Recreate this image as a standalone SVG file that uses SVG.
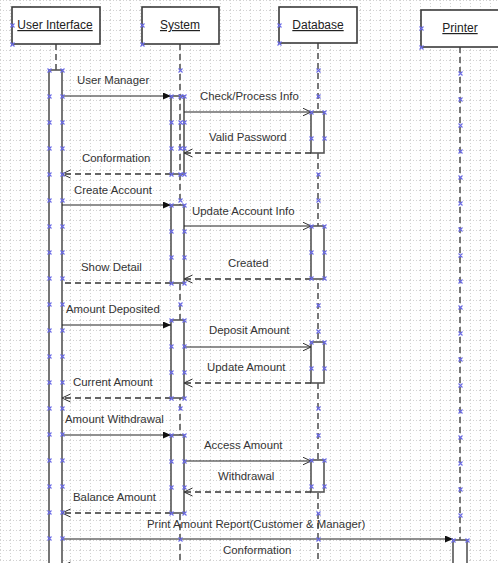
<svg xmlns="http://www.w3.org/2000/svg" width="498" height="563" viewBox="0 0 498 563">
<defs>
<pattern id="grid" width="10" height="10" patternUnits="userSpaceOnUse">
<path d="M0 0.5H10M0.5 0V10" stroke="#d2d2d2" stroke-width="1" stroke-dasharray="1,2" fill="none"/>
</pattern>
<marker id="fill" markerWidth="9" markerHeight="8" refX="8" refY="3.5" orient="auto" markerUnits="userSpaceOnUse">
<path d="M0,0 L8,3.5 L0,7 z" fill="#111"/>
</marker>
<marker id="open" markerWidth="10" markerHeight="10" refX="8.5" refY="4.5" orient="auto" markerUnits="userSpaceOnUse">
<path d="M0,0.5 L8.5,4.5 L0,8.5" fill="none" stroke="#333" stroke-width="1"/>
</marker>
<symbol id="x" viewBox="-2.5 -2.5 5 5" width="5" height="5" overflow="visible">
<path d="M-2,-2 L2,2 M-2,2 L2,-2" stroke="#6a6ae6" stroke-width="1.1"/>
</symbol>
</defs>
<style>
.hdr{fill:#fff;stroke:#3a3a3a;stroke-width:1.6}
.ht{font-family:"Liberation Sans",Arial,sans-serif;font-size:12px;fill:#222;text-decoration:underline;text-anchor:middle}
.life{stroke:#777;stroke-width:2;stroke-dasharray:6,4;fill:none}
.act{fill:#fff;stroke:#555;stroke-width:1.6}
.msg{stroke:#222;stroke-width:1.1;fill:none}
.ret{stroke:#333;stroke-width:1.4;stroke-dasharray:6,4;fill:none}
.lbl{font-family:"Liberation Sans",Arial,sans-serif;font-size:11.4px;fill:#333}
</style>
<rect width="498" height="563" fill="#fff"/>
<rect width="498" height="563" fill="url(#grid)"/>

<g id="lifelines">
<line class="life" x1="56" y1="44" x2="56" y2="70"/>
<line class="life" x1="180" y1="44" x2="180" y2="563"/>
<line class="life" x1="318" y1="43" x2="318" y2="563"/>
<line class="life" x1="460" y1="47" x2="460" y2="540" stroke-width="3" stroke="#888"/>
</g>

<g id="user-interface">
<rect class="hdr" x="12" y="7" width="88" height="37"/>
<text class="ht" x="55" y="29">User Interface</text>
<rect class="act" x="49" y="70" width="13" height="500"/>
</g>
<g id="system">
<rect class="hdr" x="142" y="7" width="77" height="37"/>
<text class="ht" x="180" y="29">System</text>
<rect class="act" x="171" y="96" width="13" height="78" style="fill:none"/>
<rect class="act" x="171" y="205" width="13" height="78"/>
<rect class="act" x="171" y="320" width="13" height="78"/>
<rect class="act" x="171" y="435" width="13" height="78"/>
</g>
<g id="database">
<rect class="hdr" x="279" y="7" width="78" height="36"/>
<text class="ht" x="318" y="29">Database</text>
<rect class="act" x="311" y="112" width="13" height="41"/>
<rect class="act" x="311" y="226" width="13" height="53"/>
<rect class="act" x="311" y="342" width="13" height="41"/>
<rect class="act" x="311" y="460" width="13" height="32"/>
</g>
<g id="printer">
<rect class="hdr" x="421" y="10" width="80" height="37"/>
<text class="ht" x="460" y="32">Printer</text>
<rect class="act" x="453" y="540" width="14" height="30"/>
</g>

<g id="connectors">
<line class="msg" x1="62" y1="96" x2="171" y2="96" marker-end="url(#fill)"/>
<line class="msg" x1="184" y1="112" x2="311" y2="112" marker-end="url(#open)"/>
<line class="ret" x1="311" y1="153" x2="184" y2="153" marker-end="url(#open)"/>
<line class="ret" x1="171" y1="174" x2="62" y2="174" marker-end="url(#open)"/>
<line class="msg" x1="62" y1="205" x2="171" y2="205" marker-end="url(#fill)"/>
<line class="msg" x1="184" y1="226" x2="311" y2="226" marker-end="url(#open)"/>
<line class="ret" x1="311" y1="279" x2="184" y2="279" marker-end="url(#open)"/>
<line class="ret" x1="171" y1="283" x2="62" y2="283"/>
<line class="msg" x1="62" y1="325" x2="171" y2="325" marker-end="url(#fill)"/>
<line class="msg" x1="184" y1="347" x2="311" y2="347" marker-end="url(#open)"/>
<line class="ret" x1="311" y1="383" x2="184" y2="383" marker-end="url(#open)"/>
<line class="ret" x1="171" y1="398" x2="62" y2="398" marker-end="url(#open)"/>
<line class="msg" x1="62" y1="435" x2="171" y2="435" marker-end="url(#fill)"/>
<line class="msg" x1="184" y1="461" x2="311" y2="461" marker-end="url(#open)"/>
<line class="ret" x1="311" y1="492" x2="184" y2="492" marker-end="url(#open)"/>
<line class="ret" x1="171" y1="513" x2="62" y2="513" marker-end="url(#open)"/>
<line class="msg" x1="62" y1="539" x2="453" y2="539" marker-end="url(#fill)"/>
<line class="ret" x1="453" y1="566" x2="62" y2="566" marker-end="url(#open)"/>
</g>

<g id="labels">
<text class="lbl" x="77" y="84">User Manager</text>
<text class="lbl" x="200" y="100">Check/Process Info</text>
<text class="lbl" x="209" y="141">Valid Password</text>
<text class="lbl" x="82" y="162">Conformation</text>
<text class="lbl" x="74" y="194">Create Account</text>
<text class="lbl" x="192" y="215">Update Account Info</text>
<text class="lbl" x="228" y="267">Created</text>
<text class="lbl" x="81" y="271">Show Detail</text>
<text class="lbl" x="66" y="313">Amount Deposited</text>
<text class="lbl" x="209" y="334">Deposit Amount</text>
<text class="lbl" x="207" y="371">Update Amount</text>
<text class="lbl" x="73" y="386">Current Amount</text>
<text class="lbl" x="65" y="423">Amount Withdrawal</text>
<text class="lbl" x="204" y="449">Access Amount</text>
<text class="lbl" x="218" y="480">Withdrawal</text>
<text class="lbl" x="73" y="501">Balance Amount</text>
<text class="lbl" x="147" y="528">Print Amount Report(Customer &amp; Manager)</text>
<text class="lbl" x="223" y="554">Conformation</text>
</g>

<g id="connection-points">
<use href="#x" x="10" y="23"/><use href="#x" x="10" y="42"/>
<use href="#x" x="140" y="23"/><use href="#x" x="140" y="42"/>
<use href="#x" x="277" y="23"/><use href="#x" x="277" y="41"/>
<use href="#x" x="419" y="26"/><use href="#x" x="419" y="45"/>
<use href="#x" x="47" y="68"/><use href="#x" x="60" y="68"/>
<use href="#x" x="47" y="94"/><use href="#x" x="60" y="94"/>
<use href="#x" x="47" y="120"/><use href="#x" x="60" y="120"/>
<use href="#x" x="47" y="146"/><use href="#x" x="60" y="146"/>
<use href="#x" x="47" y="172"/><use href="#x" x="60" y="172"/>
<use href="#x" x="47" y="198"/><use href="#x" x="60" y="198"/>
<use href="#x" x="47" y="224"/><use href="#x" x="60" y="224"/>
<use href="#x" x="47" y="250"/><use href="#x" x="60" y="250"/>
<use href="#x" x="47" y="276"/><use href="#x" x="60" y="276"/>
<use href="#x" x="47" y="302"/><use href="#x" x="60" y="302"/>
<use href="#x" x="47" y="328"/><use href="#x" x="60" y="328"/>
<use href="#x" x="47" y="354"/><use href="#x" x="60" y="354"/>
<use href="#x" x="47" y="380"/><use href="#x" x="60" y="380"/>
<use href="#x" x="47" y="406"/><use href="#x" x="60" y="406"/>
<use href="#x" x="47" y="432"/><use href="#x" x="60" y="432"/>
<use href="#x" x="47" y="458"/><use href="#x" x="60" y="458"/>
<use href="#x" x="47" y="484"/><use href="#x" x="60" y="484"/>
<use href="#x" x="47" y="510"/><use href="#x" x="60" y="510"/>
<use href="#x" x="47" y="536"/><use href="#x" x="60" y="536"/>
<use href="#x" x="178" y="68"/>
<use href="#x" x="169" y="94"/><use href="#x" x="178" y="94"/><use href="#x" x="182" y="94"/>
<use href="#x" x="169" y="120"/><use href="#x" x="178" y="120"/><use href="#x" x="182" y="120"/>
<use href="#x" x="169" y="146"/><use href="#x" x="178" y="146"/><use href="#x" x="182" y="146"/>
<use href="#x" x="169" y="172"/><use href="#x" x="178" y="172"/><use href="#x" x="182" y="172"/>
<use href="#x" x="178" y="198"/>
<use href="#x" x="169" y="203"/><use href="#x" x="182" y="203"/>
<use href="#x" x="169" y="229"/><use href="#x" x="182" y="229"/>
<use href="#x" x="169" y="255"/><use href="#x" x="182" y="255"/>
<use href="#x" x="169" y="281"/><use href="#x" x="182" y="281"/>
<use href="#x" x="178" y="302"/>
<use href="#x" x="169" y="318"/><use href="#x" x="182" y="318"/>
<use href="#x" x="169" y="344"/><use href="#x" x="182" y="344"/>
<use href="#x" x="169" y="370"/><use href="#x" x="182" y="370"/>
<use href="#x" x="169" y="396"/><use href="#x" x="182" y="396"/>
<use href="#x" x="178" y="406"/>
<use href="#x" x="169" y="433"/><use href="#x" x="182" y="433"/>
<use href="#x" x="169" y="459"/><use href="#x" x="182" y="459"/>
<use href="#x" x="169" y="485"/><use href="#x" x="182" y="485"/>
<use href="#x" x="169" y="511"/><use href="#x" x="182" y="511"/>
<use href="#x" x="178" y="537"/>
<use href="#x" x="316" y="68"/><use href="#x" x="316" y="94"/>
<use href="#x" x="309" y="110"/><use href="#x" x="322" y="110"/>
<use href="#x" x="309" y="136"/><use href="#x" x="322" y="136"/>
<use href="#x" x="316" y="172"/><use href="#x" x="316" y="198"/>
<use href="#x" x="309" y="224"/><use href="#x" x="322" y="224"/>
<use href="#x" x="309" y="250"/><use href="#x" x="322" y="250"/>
<use href="#x" x="309" y="276"/><use href="#x" x="322" y="276"/>
<use href="#x" x="316" y="303"/><use href="#x" x="316" y="329"/>
<use href="#x" x="309" y="340"/><use href="#x" x="322" y="340"/>
<use href="#x" x="309" y="366"/><use href="#x" x="322" y="366"/>
<use href="#x" x="316" y="406"/><use href="#x" x="316" y="433"/>
<use href="#x" x="309" y="458"/><use href="#x" x="322" y="458"/>
<use href="#x" x="309" y="484"/><use href="#x" x="322" y="484"/>
<use href="#x" x="316" y="511"/><use href="#x" x="316" y="537"/>
<use href="#x" x="458" y="71"/><use href="#x" x="458" y="97"/>
<use href="#x" x="458" y="123"/><use href="#x" x="458" y="149"/>
<use href="#x" x="458" y="175"/><use href="#x" x="458" y="201"/>
<use href="#x" x="458" y="227"/><use href="#x" x="458" y="253"/>
<use href="#x" x="458" y="279"/><use href="#x" x="458" y="305"/>
<use href="#x" x="458" y="331"/><use href="#x" x="458" y="357"/>
<use href="#x" x="458" y="383"/><use href="#x" x="458" y="409"/>
<use href="#x" x="458" y="435"/><use href="#x" x="458" y="461"/>
<use href="#x" x="458" y="487"/><use href="#x" x="458" y="513"/>
<use href="#x" x="451" y="538"/><use href="#x" x="465" y="538"/>
</g>
</svg>
